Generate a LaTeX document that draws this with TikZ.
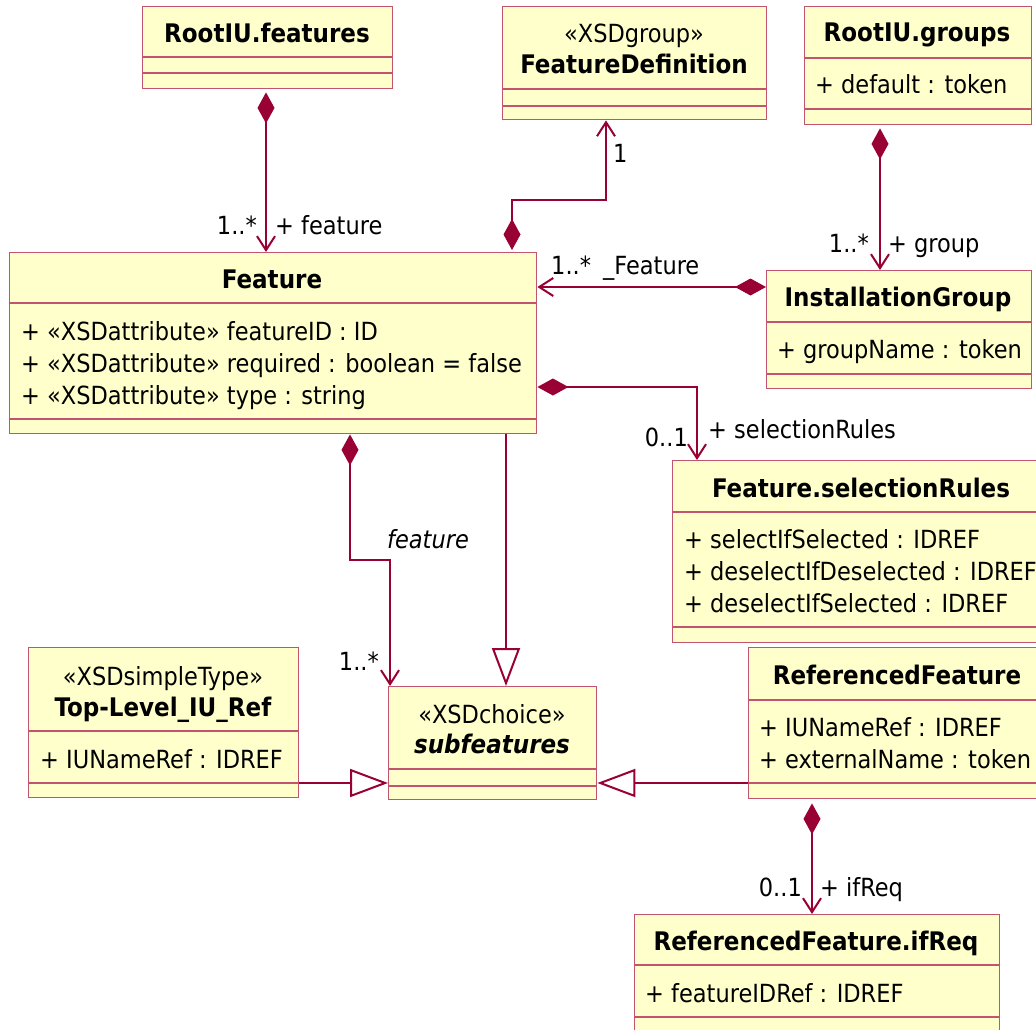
\documentclass[tikz,border=0pt]{standalone}
\usepackage{fontspec}
\setmainfont{DejaVu Sans Condensed}
\usetikzlibrary{arrows.meta,calc}

\definecolor{umlfill}{HTML}{FFFFCC}
\definecolor{umlborder}{HTML}{C25470}
\definecolor{umlline}{HTML}{990033}

\tikzset{
  umlbox/.style={draw=umlborder, fill=umlfill, line width=1.4pt, inner sep=0pt,
                 anchor=north west, rectangle},
  divider/.style={draw=umlborder, line width=1.4pt},
  txt/.style={font=\fontsize{25}{29}\selectfont, inner sep=0pt, text=black},
  title/.style={txt, font=\bfseries\fontsize{25.6}{29}\selectfont, anchor=base},
  stereo/.style={txt, anchor=base},
  attr/.style={txt, anchor=base west},
  lblw/.style={txt, anchor=base west},
  lble/.style={txt, anchor=base east},
  assoc/.style={draw=umlline, line width=2pt},
  comp/.style={assoc, {Diamond[length=31pt,width=17pt]}-{Straight Barb[length=14pt,width=18pt]}},
  gen/.style={assoc, -{Triangle[length=38pt,width=28pt,fill=white]}},
}

% class box: name, x, y, width, height, first divider, second divider
\newcommand\umlclass[7]{%
  \node[umlbox, minimum width=#4pt, minimum height=#5pt] (#1) at (#2,#3) {};
  \draw[divider] ($(#1.north west)+(0,#6)$) -- ($(#1.north east)+(0,#6)$);
  \draw[divider] ($(#1.north west)+(0,#7)$) -- ($(#1.north east)+(0,#7)$);
}

\begin{document}
\begin{tikzpicture}[x=1pt, y=-1pt]
  \useasboundingbox (0,0) rectangle (1036,1030);
  \fill[white] (0,0) rectangle (1036,1030);
  \clip (0,0) rectangle (1036,1030);

  % classes
  \umlclass{rf}{142}{6}{250}{82}{51}{67}
  \umlclass{fd}{502}{6}{264}{113}{83}{100}
  \umlclass{rg}{804}{6}{227}{118}{52}{103}
  \umlclass{ig}{766}{270}{265}{118}{52}{104}
  \umlclass{feat}{9}{252}{527}{181}{51}{167}
  \umlclass{sr}{672}{460}{378}{182}{52}{167}
  \umlclass{tl}{28}{647}{270}{150}{84}{136}
  \umlclass{sf}{388}{686}{208}{113}{83}{100}
  \umlclass{rfe}{748}{647}{298}{151}{53}{136}
  \umlclass{ifr}{634}{914}{365}{130}{51}{103}

  % class texts
  \node[title] (rft) at (267,43) {RootIU.features};
  \node[stereo] (fds) at (634,43) {«XSDgroup»};
  \node[title] (fdt) at (634,74) {FeatureDefinition};
  \node[title] (rgt) at (917,42) {RootIU.groups};
  \node[attr] (rga) at (815,94) {+ default : token};
  \node[title] (igt) at (898,306) {InstallationGroup};
  \node[attr] (iga) at (777,358) {+ groupName : token};
  \node[title] (featt) at (272,288) {Feature};
  \node[attr] (feata) at (21,340) {+ «XSDattribute» featureID : ID};
  \node[attr] (featb) at (21,372) {+ «XSDattribute» required : boolean = false};
  \node[attr] (featc) at (21,404) {+ «XSDattribute» type : string};
  \node[title] (srt) at (861,497) {Feature.selectionRules};
  \node[attr] (sra) at (684,548) {+ selectIfSelected : IDREF};
  \node[attr] (srb) at (684,580) {+ deselectIfDeselected : IDREF};
  \node[attr] (src) at (684,612) {+ deselectIfSelected : IDREF};
  \node[stereo] (tls) at (163,685) {«XSDsimpleType»};
  \node[title] (tlt) at (163,716) {Top-Level\_IU\_Ref};
  \node[attr] (tla) at (40,768) {+ IUNameRef : IDREF};
  \node[stereo] (sfs) at (492,723) {«XSDchoice»};
  \node[title, font=\bfseries\itshape\fontsize{25.6}{29}\selectfont] (sft) at (492,753) {subfeatures};
  \node[title] (rfet) at (897,684) {ReferencedFeature};
  \node[attr] (rfea) at (759,736) {+ IUNameRef : IDREF};
  \node[attr] (rfeb) at (759,768) {+ externalName : token};
  \node[title] (ifrt) at (816,950) {ReferencedFeature.ifReq};
  \node[attr] (ifra) at (645,1002) {+ featureIDRef : IDREF};

  % anchor points of connectors
  \coordinate (c1) at ($(rf.south west)+(124,0)$);
  \coordinate (c2) at ($(feat.north west)+(503,0)$);
  \coordinate (c2b) at ($(fd.south west)+(104,0)$);
  \coordinate (c3) at ($(rg.south west)+(76,0)$);
  \coordinate (c4) at ($(ig.north west)+(0,17)$);
  \coordinate (c5) at ($(feat.north east)+(0,135)$);
  \coordinate (c5b) at ($(sr.north west)+(25,0)$);
  \coordinate (c6) at ($(feat.south west)+(341,0)$);
  \coordinate (c6b) at ($(sf.north west)+(2,0)$);
  \coordinate (c7) at ($(feat.south west)+(497,0)$);
  \coordinate (c8) at ($(tl.north east)+(0,136)$);
  \coordinate (c9) at ($(rfe.north west)+(0,136)$);
  \coordinate (c10) at ($(rfe.south west)+(64,0)$);

  % compositions
  \draw[comp, shorten <=3pt] (c1) -- (c1 |- feat.north);
  \draw[comp, shorten <=2pt] (c2) -- ++(0,-52) -| (c2b);
  \draw[comp, shorten <=3pt] (c3) -- (c3 |- ig.north);
  \draw[comp] (c4) -- (c4 -| feat.east);
  \draw[comp] (c5) -| (c5b);
  \draw[comp] (c6) -- ++(0,126) -| (c6b);
  \draw[comp, shorten <=4pt] (c10) -- (c10 |- ifr.north);

  % generalizations
  \draw[gen] (c7) -- (c7 |- sf.north);
  \draw[gen] (c8) -- (c8 -| sf.west);
  \draw[gen] (c9) -- (c9 -| sf.east);

  % connector labels
  \node[lble] (l1m) at (257,234) {1..*};
  \node[lblw] (l1r) at (275,234) {+ feature};
  \node[lblw] (l2m) at (613,163) {1};
  \node[lble] (l3m) at (869,252) {1..*};
  \node[lblw] (l3r) at (888,252) {+ group};
  \node[lblw] (l4m) at (551,274) {1..*};
  \node[lblw] (l4r) at (603,274) {\_Feature};
  \node[lble] (l5m) at (688,446) {0..1};
  \node[lblw] (l5r) at (708,438) {+ selectionRules};
  \node[lblw, font=\itshape\fontsize{25}{29}\selectfont] (l6r) at (387,548) {feature};
  \node[lble] (l6m) at (379,670) {1..*};
  \node[lble] (l10m) at (802,896) {0..1};
  \node[lblw] (l10r) at (820,896) {+ ifReq};
\end{tikzpicture}
\end{document}
